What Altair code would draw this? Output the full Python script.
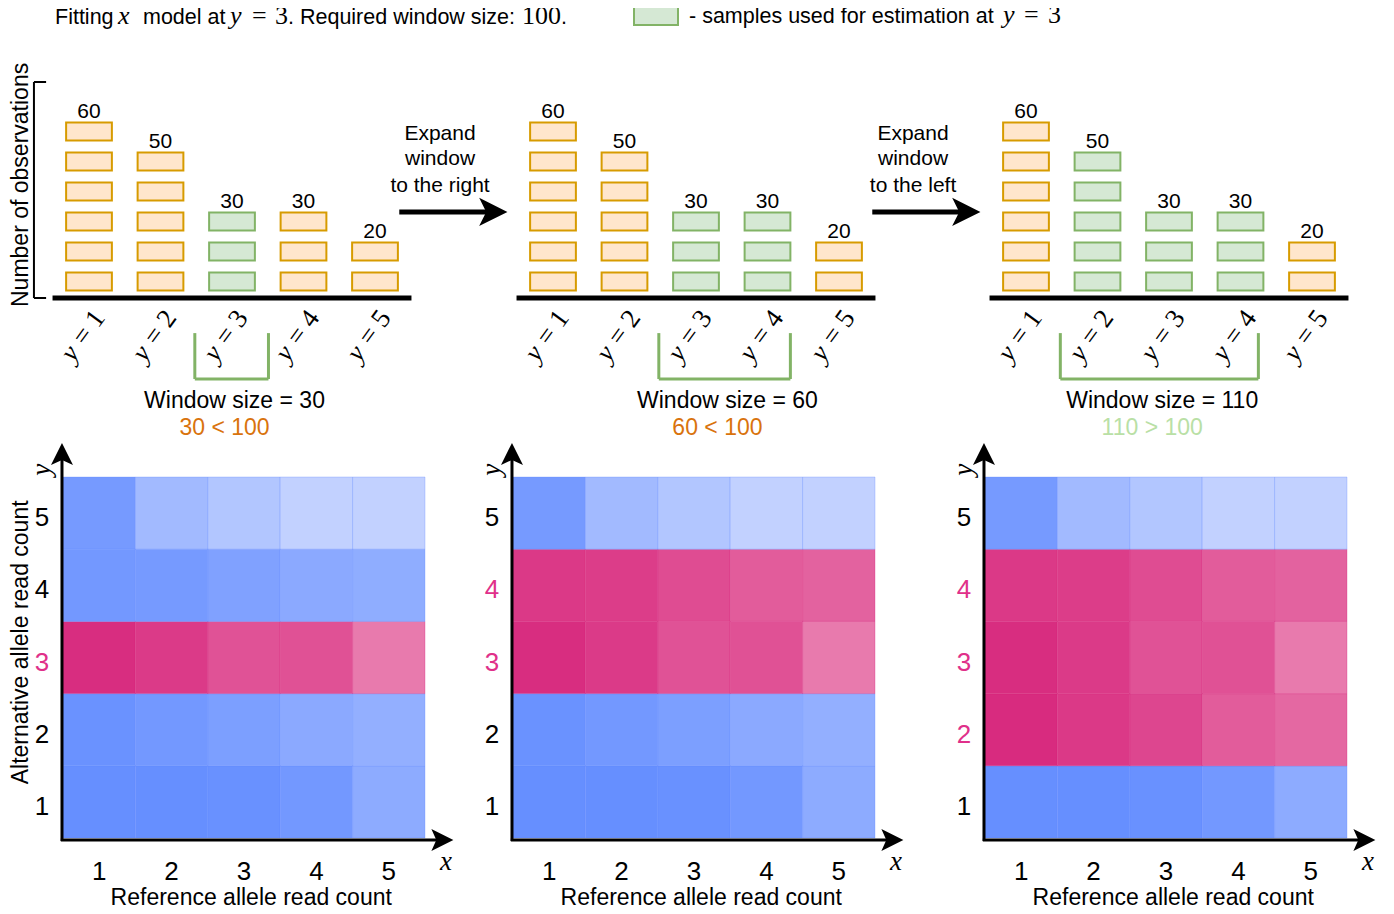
import altair as alt
import pandas as pd

# ---------------- data ----------------
y_values = [1, 2, 3, 4, 5]
observations = [60, 50, 30, 30, 20]
obs_per_box = 10
target_y = 3
windows = [[3], [3, 4], [2, 3, 4]]
window_sizes = [30, 60, 110]
required_size = 100
arrow_captions = [["Expand", "window", "to the right"], ["Expand", "window", "to the left"]]

ref_counts = [1, 2, 3, 4, 5]
alt_counts = [1, 2, 3, 4, 5]
density_alt1 = [1.00, 1.00, 0.97, 0.86, 0.58]
density_alt2 = [0.96, 0.86, 0.76, 0.60, 0.51]
density_alt3 = [0.95, 0.85, 0.67, 0.68, 0.37]
density_alt4 = [0.86, 0.83, 0.72, 0.60, 0.55]
density_alt5 = [0.83, 0.35, 0.17, 0.00, 0.00]
density_rows = [density_alt1, density_alt2, density_alt3, density_alt4, density_alt5]

# ---------------- style ----------------
SANS = "Liberation Sans"
SERIF = "Liberation Serif"
ORANGE_FILL, ORANGE_STROKE = "#ffe6cc", "#d79b00"
GREEN_FILL, GREEN_STROKE = "#d5e8d4", "#82b366"
ORANGE_TEXT, GREEN_TEXT = "#d9730d", "#b9e0a5"
PINK_TEXT = "#e0308a"
HEAT_RANGE = ["#c2d1ff", "#668fff", "#f2acca", "#d7267c"]

M = 8  # page margin
BAR_OFF = [0, 464, 937]
HEAT_OFF = [0, 450, 922]
BRACKET_RIGHT_PAD = [0.51, 0.32, 0.25]

ONE = pd.DataFrame({"k": [0]})


def at(xs, ys, x, y, x2=None, y2=None):
    enc = dict(
        x=alt.XDatum(x, type="quantitative", scale=xs, axis=None),
        y=alt.YDatum(y, type="quantitative", scale=ys, axis=None),
    )
    if x2 is not None:
        enc["x2"] = alt.X2Datum(x2)
    if y2 is not None:
        enc["y2"] = alt.Y2Datum(y2)
    return enc


def bar_panel(p):
    off = BAR_OFF[p]
    xs = alt.Scale(domain=[0.5, 5.5], range=[53.25 + off - M, 410.75 + off - M])
    ys = alt.Scale(domain=[0, 70], range=[298 - M, 298 - M - 210])
    win = windows[p]
    X = lambda f: alt.X(f, scale=xs, axis=None)
    Y = lambda f: alt.Y(f, scale=ys, axis=None)
    boxes = pd.DataFrame(
        [{"cat": c, "k": k, "win": c in win}
         for c, n in zip(y_values, observations) for k in range(n // obs_per_box)]
    )
    cats = pd.DataFrame({"cat": y_values, "n": observations})
    layers = []
    layers.append(
        alt.Chart(boxes).transform_calculate(
            xl="datum.cat - 0.32", xr="datum.cat + 0.32",
            lo=f"datum.k * {obs_per_box} + 2.5", hi=f"datum.k * {obs_per_box} + 8.5",
        ).mark_rect(strokeWidth=2).encode(
            x=X("xl:Q"), x2="xr:Q", y=Y("lo:Q"), y2="hi:Q",
            fill=alt.condition(alt.datum.win, alt.value(GREEN_FILL), alt.value(ORANGE_FILL)),
            stroke=alt.condition(alt.datum.win, alt.value(GREEN_STROKE), alt.value(ORANGE_STROKE)),
        )
    )
    layers.append(
        alt.Chart(cats).transform_calculate(ty="datum.n + 2.1").mark_text(
            font=SANS, fontSize=21, baseline="middle", color="black"
        ).encode(x=X("cat:Q"), y=Y("ty:Q"), text="n:Q")
    )
    # baseline
    layers.append(alt.Chart(ONE).mark_rule(strokeWidth=5, color="black").encode(**at(xs, ys, 0.49, 0, x2=5.51)))
    # category labels y = k
    layers.append(
        alt.Chart(cats).transform_calculate(xa="datum.cat - 0.17", ya="-15.5", t="'y'").mark_text(
            font=SERIF, fontStyle="italic", fontSize=27, angle=306, align="right", baseline="middle", dx=-5
        ).encode(x=X("xa:Q"), y=Y("ya:Q"), text="t:N")
    )
    layers.append(
        alt.Chart(cats).transform_calculate(xa="datum.cat - 0.17", ya="-15.5", t="'=  ' + datum.cat").mark_text(
            font=SERIF, fontSize=27, angle=306, align="left", baseline="middle", dx=3
        ).encode(x=X("xa:Q"), y=Y("ya:Q"), text="t:N")
    )
    # window bracket
    lo, hi = min(win) - 0.52, max(win) + BRACKET_RIGHT_PAD[p]
    br = dict(strokeWidth=3, color=GREEN_STROKE)
    layers.append(alt.Chart(ONE).mark_rule(**br).encode(**at(xs, ys, lo, -11.7, y2=-27)))
    layers.append(alt.Chart(ONE).mark_rule(**br).encode(**at(xs, ys, hi, -11.7, y2=-27)))
    layers.append(alt.Chart(ONE).mark_rule(**br).encode(**at(xs, ys, lo, -27, x2=hi)))
    mid = (lo + hi) / 2
    layers.append(alt.Chart(ONE).mark_text(
        text=f"Window size = {window_sizes[p]}", font=SANS, fontSize=23, color="black", baseline="middle"
    ).encode(**at(xs, ys, mid + 0.04, -34.3)))
    ok = window_sizes[p] >= required_size
    layers.append(alt.Chart(ONE).mark_text(
        text=f"{window_sizes[p]} {'>' if ok else '<'} {required_size}", font=SANS, fontSize=23,
        color=GREEN_TEXT if ok else ORANGE_TEXT, baseline="middle"
    ).encode(**at(xs, ys, mid - 0.1, -43.3)))
    if p == 0:
        bk = dict(strokeWidth=2, color="black")
        layers.append(alt.Chart(ONE).mark_rule(**bk).encode(**at(xs, ys, 0.23, 0, y2=72)))
        layers.append(alt.Chart(ONE).mark_rule(**bk).encode(**at(xs, ys, 0.23, 72, x2=0.40)))
        layers.append(alt.Chart(ONE).mark_rule(**bk).encode(**at(xs, ys, 0.23, 0, x2=0.40)))
        layers.append(alt.Chart(ONE).mark_text(
            text="Number of observations", font=SANS, fontSize=23, angle=270, baseline="middle"
        ).encode(**at(xs, ys, 0.045, 37.7)))
    else:
        # arrow coming from the previous panel
        layers.append(alt.Chart(ONE).mark_rule(strokeWidth=5, color="black").encode(**at(xs, ys, -1.15, 28.7, x2=0.2)))
        layers.append(alt.Chart(ONE).mark_point(
            shape="M1,0 L-1,-1 L-0.5,0 L-1,1 Z", size=800, filled=True, opacity=1, color="black"
        ).encode(**at(xs, ys, 0.165, 28.7)))
        for line, yy in zip(arrow_captions[p - 1], [54.7, 46.3, 37.3]):
            layers.append(alt.Chart(ONE).mark_text(
                text=line, font=SANS, fontSize=21, baseline="middle", color="black"
            ).encode(**at(xs, ys, -0.58, yy)))
    return alt.layer(*layers)


def heat_panel(p):
    off = HEAT_OFF[p]
    xs = alt.Scale(domain=[0.5, 5.5], range=[63 + off - M, 425 + off - M])
    ys = alt.Scale(domain=[0.5, 5.5], range=[838 - M, 477 - M])
    X = lambda f: alt.X(f, scale=xs, axis=None)
    Y = lambda f: alt.Y(f, scale=ys, axis=None)
    win = windows[p]
    cells = pd.DataFrame(
        [{"ref": r, "alt": a, "density": density_rows[i][j], "win": a in win}
         for i, a in enumerate(alt_counts) for j, r in enumerate(ref_counts)]
    )
    rows = pd.DataFrame({"alt": alt_counts, "win": [a in win for a in alt_counts]})
    cols = pd.DataFrame({"ref": ref_counts})
    layers = []
    layers.append(
        alt.Chart(cells).transform_calculate(
            x0="datum.ref - 0.5", x1="datum.ref + 0.5", y0="datum.alt - 0.5", y1="datum.alt + 0.5",
            v="datum.density + (datum.win ? 2 : 0)",
        ).mark_rect(strokeWidth=1, strokeOpacity=0.3).encode(
            x=X("x0:Q"), x2="x1:Q", y=Y("y0:Q"), y2="y1:Q",
            color=alt.Color("v:Q", scale=alt.Scale(domain=[0, 1, 2, 3], range=HEAT_RANGE, interpolate="rgb"), legend=None),
            stroke=alt.condition(alt.datum.win, alt.value("#d41f76"), alt.value("#5c86ff")),
        )
    )
    layers.append(
        alt.Chart(rows).transform_calculate(lx="0.21").mark_text(
            font=SANS, fontSize=26, baseline="middle", dy=5
        ).encode(
            x=X("lx:Q"), y=Y("alt:Q"), text="alt:Q",
            color=alt.condition(alt.datum.win, alt.value(PINK_TEXT), alt.value("black")),
        )
    )
    layers.append(
        alt.Chart(cols).transform_calculate(ly="0.057").mark_text(
            font=SANS, fontSize=26, baseline="middle", color="black", dy=2
        ).encode(x=X("ref:Q"), y=Y("ly:Q"), text="ref:Q")
    )
    ax = dict(strokeWidth=3, color="black")
    layers.append(alt.Chart(ONE).mark_rule(**ax).encode(**at(xs, ys, 0.486, 0.46, y2=5.8)))
    layers.append(alt.Chart(ONE).mark_rule(**ax).encode(**at(xs, ys, 0.47, 0.472, x2=5.7)))
    layers.append(alt.Chart(ONE).mark_point(
        shape="M0,-1 L1,1 L0,0.55 L-1,1 Z", size=484, filled=True, opacity=1, color="black"
    ).encode(**at(xs, ys, 0.486, 5.82)))
    layers.append(alt.Chart(ONE).mark_point(
        shape="M1,0 L-1,-1 L-0.55,0 L-1,1 Z", size=484, filled=True, opacity=1, color="black"
    ).encode(**at(xs, ys, 5.74, 0.472)))
    layers.append(alt.Chart(ONE).mark_text(
        text="x", font=SERIF, fontStyle="italic", fontSize=27, baseline="middle"
    ).encode(**at(xs, ys, 5.79, 0.17)))
    layers.append(alt.Chart(ONE).mark_text(
        text="y", font=SERIF, fontStyle="italic", fontSize=27, baseline="middle", angle=270
    ).encode(**at(xs, ys, 0.21, 5.6)))
    layers.append(alt.Chart(ONE).mark_text(
        text="Reference allele read count", font=SANS, fontSize=23, baseline="middle"
    ).encode(**at(xs, ys, 3.1, -0.325)))
    if p == 0:
        layers.append(alt.Chart(ONE).mark_text(
            text="Alternative allele read count", font=SANS, fontSize=23, baseline="middle", angle=270
        ).encode(**at(xs, ys, -0.085, 3.21)))
    return alt.layer(*layers)


# header (title + legend) : segments of mixed fonts (text, font, style, size, left x on page)
title_segments = [
    ("Fitting", SANS, "normal", 21.5, 55),
    ("x", SERIF, "italic", 26, 118),
    ("model at", SANS, "normal", 21.5, 143),
    ("y", SERIF, "italic", 26, 230),
    ("=", SERIF, "normal", 26, 252),
    ("3", SERIF, "normal", 26, 275),
    (". Required window size:", SANS, "normal", 21.5, 288),
    ("100", SERIF, "normal", 26, 522),
    (".", SANS, "normal", 21.5, 561),
]
legend_segments = [
    ("- samples used for estimation at", SANS, "normal", 21.5, 689),
    ("y", SERIF, "italic", 26, 1003),
    ("=", SERIF, "normal", 26, 1024),
    ("3", SERIF, "normal", 26, 1048),
]
header = []
for segs, base in [(title_segments, 24), (legend_segments, 23)]:
    for txt, font, style, size, x0 in segs:
        header.append(alt.Chart(ONE).mark_text(
            text=txt, font=font, fontStyle=style, fontSize=size, align="left", baseline="alphabetic", color="black"
        ).encode(x=alt.value(x0 - M), y=alt.value(base - M)))
header.append(alt.Chart(ONE).mark_rect(fill=GREEN_FILL, stroke=GREEN_STROKE, strokeWidth=2).encode(
    x=alt.value(634 - M), x2=alt.value(678 - M), y=alt.value(7 - M), y2=alt.value(25 - M)))

chart = alt.layer(
    *[bar_panel(p) for p in range(3)],
    *[heat_panel(p) for p in range(3)],
    *header,
).resolve_scale(x="independent", y="independent").properties(
    width=1378, height=898, autosize=alt.AutoSizeParams(type="none"), padding=0
).configure_view(stroke=None)

chart.save("out.html", embed_options={"renderer": "svg", "actions": False})
